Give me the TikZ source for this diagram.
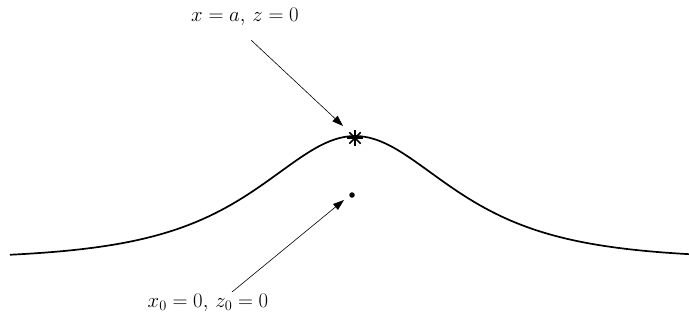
\documentclass[tikz,border=0pt]{standalone}
\usetikzlibrary{arrows.meta, positioning, calc}

\begin{document}
\begin{tikzpicture}[x=1pt, y=-1pt, >={Triangle[length=11pt, width=7.5pt]},
  pointer/.style={line width=0.6pt, ->},
  marklabel/.style={font=\fontsize{20}{24}\selectfont, inner sep=1pt}
]
\useasboundingbox (0,0) rectangle (689,322);

% Surface profile
\draw[line width=1.7pt, smooth, samples=160, domain=10:689]
  plot (\x, {259 - 123/cosh((\x-355)/85)});

% Marked points
\coordinate (peak) at (355,138);
\foreach \ang in {0,45,90,135}
  \draw[line width=1.6pt] (peak) ++(\ang:8) -- ++(\ang+180:16);
\node[circle, fill, inner sep=0pt, minimum size=5.5pt] (origin-dot) at (352,195) {};

% Labels
\node[marklabel] (top-label) at (245,17) {$x = a,\, z = 0$};
\node[marklabel] (bottom-label) at (208,303) {$x_0 = 0,\, z_0 = 0$};

% Pointers
\coordinate (top-tail) at (251,40);
\coordinate (top-head) at (343,126);
\coordinate (bottom-tail) at (232,292);
\coordinate (bottom-head) at (344,200);
\draw[pointer] (top-tail) -- (top-head);
\draw[pointer] (bottom-tail) -- (bottom-head);

\end{tikzpicture}
\end{document}
